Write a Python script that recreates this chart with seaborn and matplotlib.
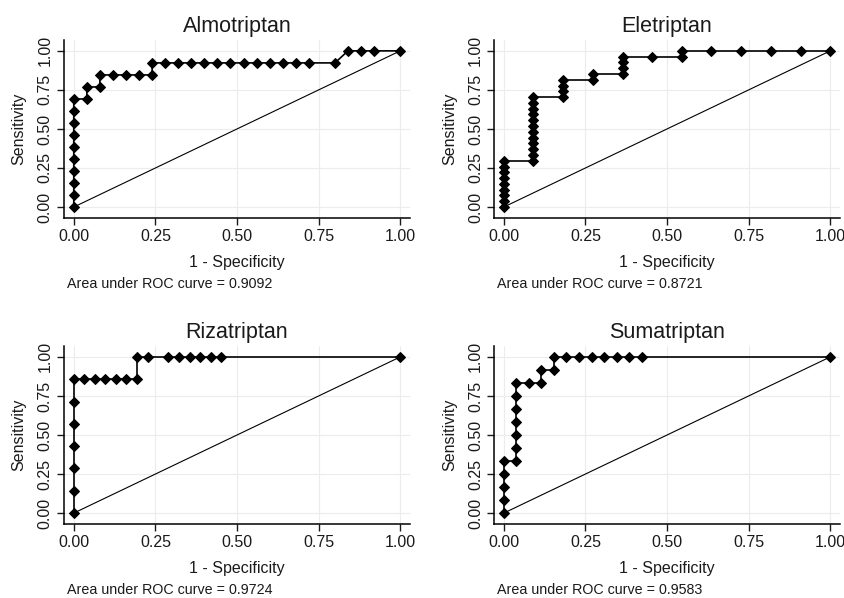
import matplotlib
matplotlib.use("Agg")
import matplotlib.pyplot as plt
import seaborn as sns
import pandas as pd

# ROC points (1 - specificity, sensitivity)
almo_x = [0, 0, 0, 0, 0, 0, 0, 0, 0, 0,
          0.04, 0.04, 0.08, 0.08, 0.12, 0.16, 0.20, 0.24,
          0.24, 0.28, 0.32, 0.36, 0.40, 0.44, 0.48, 0.52, 0.56, 0.60, 0.64, 0.68, 0.72, 0.80,
          0.84, 0.88, 0.92, 1.0]
almo_y = [0, 0.077, 0.154, 0.231, 0.308, 0.385, 0.462, 0.538, 0.615, 0.692,
          0.692, 0.769, 0.769, 0.846, 0.846, 0.846, 0.846, 0.846,
          0.923, 0.923, 0.923, 0.923, 0.923, 0.923, 0.923, 0.923, 0.923, 0.923, 0.923, 0.923, 0.923, 0.923,
          1.0, 1.0, 1.0, 1.0]

ele_x = [0, 0, 0, 0, 0, 0, 0, 0, 0,
         0.091, 0.091, 0.091, 0.091, 0.091, 0.091, 0.091, 0.091, 0.091, 0.091, 0.091, 0.091,
         0.182, 0.182, 0.182, 0.182,
         0.273, 0.273,
         0.364, 0.364, 0.364, 0.364,
         0.455,
         0.545, 0.545,
         0.636, 0.727, 0.818, 0.909, 1.0]
ele_y = [0, 0.037, 0.074, 0.111, 0.148, 0.185, 0.222, 0.259, 0.296,
         0.296, 0.333, 0.370, 0.407, 0.444, 0.481, 0.519, 0.556, 0.593, 0.630, 0.667, 0.704,
         0.704, 0.741, 0.778, 0.815,
         0.815, 0.852,
         0.852, 0.889, 0.926, 0.963,
         0.963,
         0.963, 1.0,
         1.0, 1.0, 1.0, 1.0, 1.0]

riza_x = [0, 0, 0, 0, 0, 0, 0,
          0.032, 0.065, 0.097, 0.129, 0.161, 0.194,
          0.194, 0.226, 0.290, 0.323, 0.355, 0.387, 0.419, 0.452, 1.0]
riza_y = [0, 0.143, 0.286, 0.429, 0.571, 0.714, 0.857,
          0.857, 0.857, 0.857, 0.857, 0.857, 0.857,
          1.0, 1.0, 1.0, 1.0, 1.0, 1.0, 1.0, 1.0, 1.0]

suma_x = [0, 0, 0, 0, 0,
          0.038, 0.038, 0.038, 0.038, 0.038, 0.038, 0.038,
          0.077, 0.115, 0.115, 0.154, 0.154,
          0.192, 0.231, 0.269, 0.308, 0.346, 0.385, 0.423, 1.0]
suma_y = [0, 0.083, 0.167, 0.250, 0.333,
          0.333, 0.417, 0.500, 0.583, 0.667, 0.750, 0.833,
          0.833, 0.833, 0.917, 0.917, 1.0,
          1.0, 1.0, 1.0, 1.0, 1.0, 1.0, 1.0, 1.0]

drugs = ["Almotriptan", "Eletriptan", "Rizatriptan", "Sumatriptan"]
auc = ["0.9092", "0.8721", "0.9724", "0.9583"]
curves = [(almo_x, almo_y), (ele_x, ele_y), (riza_x, riza_y), (suma_x, suma_y)]
ticks = [0, 0.25, 0.5, 0.75, 1.0]
tick_labels = ["0.00", "0.25", "0.50", "0.75", "1.00"]

sns.set_theme(style="whitegrid", rc={
    "grid.color": "#ececec", "grid.linewidth": 0.8,
    "axes.edgecolor": "black", "axes.linewidth": 1.1,
    "xtick.bottom": True, "ytick.left": True,
    "xtick.major.size": 5, "ytick.major.size": 5,
    "xtick.major.width": 1.0, "ytick.major.width": 1.0,
    "xtick.color": "#1a1a1a", "ytick.color": "#1a1a1a",
    "text.color": "#1a1a1a", "axes.labelcolor": "#1a1a1a",
})
plt.rcParams["font.family"] = ["Liberation Sans", "DejaVu Sans"]

fig = plt.figure(figsize=(8.44, 5.98), dpi=100)
positions = [(0.0758, 0.6355), (0.5853, 0.6355), (0.0758, 0.1237), (0.5853, 0.1237)]

for i, (name, a, (cx, cy), pos) in enumerate(zip(drugs, auc, curves, positions)):
    ax = fig.add_axes([pos[0], pos[1], 0.41, 0.2977])
    df = pd.DataFrame({"fpr": cx, "tpr": cy})
    sns.lineplot(data=pd.DataFrame({"fpr": [0, 1], "tpr": [0, 1]}), x="fpr", y="tpr",
                 ax=ax, color="black", linewidth=0.8)
    sns.lineplot(data=df, x="fpr", y="tpr", ax=ax, sort=False, estimator=None,
                 color="black", linewidth=1.2, marker="D", markersize=5.5,
                 markeredgecolor="black")
    ax.set_xlim(-0.03, 1.03)
    ax.set_ylim(-0.07, 1.07)
    ax.set_xticks(ticks)
    ax.set_xticklabels(tick_labels, fontsize=11.5)
    ax.set_yticks(ticks)
    ax.set_yticklabels(tick_labels, fontsize=11.5, rotation=90, va="center")
    ax.set_xlabel("1 - Specificity", fontsize=11.5, labelpad=8)
    ax.set_ylabel("Sensitivity", fontsize=11.5, labelpad=8)
    ax.set_title(name, fontsize=15.5, pad=6)
    ax.tick_params(axis="both", pad=3)
    sns.despine(ax=ax)
    ax.text(0.01, -0.37, "Area under ROC curve = " + a, transform=ax.transAxes,
            fontsize=10.3, ha="left", va="center")

fig.savefig("out.png", dpi=100)
